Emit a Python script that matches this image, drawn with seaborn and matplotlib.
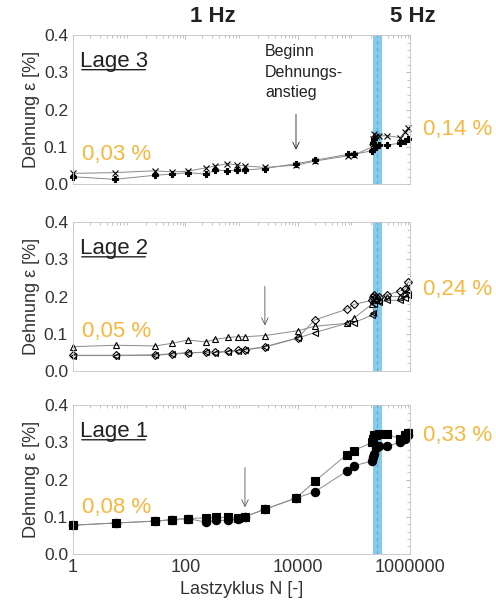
import numpy as np
import pandas as pd
import matplotlib
matplotlib.use("Agg")
import matplotlib.pyplot as plt
import seaborn as sns
from matplotlib.ticker import LogLocator, MultipleLocator, NullFormatter

sns.set_theme(style="white")
plt.rcParams["font.family"] = ["Liberation Sans", "DejaVu Sans"]

# ---- data ----
n_lage3 = [1, 5.6, 29, 57, 112, 234, 337, 560, 840, 1150, 2600, 9300, 2e4, 7.8e4, 1e5,
           2.1e5, 2.2e5, 2.3e5, 2.5e5, 2.8e5, 3.9e5, 6.6e5, 8e5, 9.3e5]
lage3_x = [0.029, 0.031, 0.036, 0.033, 0.035, 0.044, 0.049, 0.055, 0.051, 0.049, 0.045, 0.051,
           0.062, 0.076, 0.078, 0.10, 0.12, 0.135, 0.13, 0.13, 0.13, 0.125, 0.14, 0.15]
lage3_plus = [0.020, 0.013, 0.024, 0.027, 0.031, 0.027, 0.038, 0.036, 0.038, 0.038, 0.042, 0.055,
              0.064, 0.080, 0.080, 0.09, 0.11, 0.12, 0.10, 0.105, 0.105, 0.11, 0.115, 0.12]

n_lage2 = [1, 5.8, 29, 57, 112, 234, 340, 580, 870, 1150, 2600, 1e4, 2e4, 7.4e4, 1e5,
           2.1e5, 2.2e5, 2.3e5, 2.5e5, 2.8e5, 3.9e5, 6.6e5, 8e5, 9.3e5]
lage2_tri = [0.065, 0.069, 0.067, 0.074, 0.083, 0.078, 0.085, 0.090, 0.092, 0.092, 0.095, 0.108,
             0.120, 0.128, 0.142, 0.18, 0.19, 0.20, 0.195, 0.19, 0.20, 0.20, 0.21, 0.22]
lage2_dia = [0.042, 0.042, 0.043, 0.046, 0.049, 0.050, 0.050, 0.053, 0.055, 0.057, 0.065, 0.089,
             0.137, 0.166, 0.179, 0.19, 0.20, 0.205, 0.20, 0.20, 0.205, 0.215, 0.22, 0.24]
lage2_left = [0.041, 0.041, 0.042, 0.045, 0.048, 0.050, 0.049, 0.052, 0.054, 0.056, 0.064, 0.088,
              0.103, 0.128, 0.130, 0.15, 0.155, 0.18, 0.19, 0.185, 0.19, 0.19, 0.195, 0.205]

n_lage1 = [1, 5.8, 29, 57, 112, 234, 350, 580, 870, 1150, 2600, 9300, 2e4, 7.4e4, 1e5,
           2.1e5, 2.2e5, 2.3e5, 2.5e5, 2.8e5, 3.9e5, 6.6e5, 8e5, 9.3e5]
lage1_sq = [0.077, 0.083, 0.088, 0.092, 0.095, 0.097, 0.098, 0.098, 0.097, 0.100, 0.120, 0.150,
            0.195, 0.267, 0.278, 0.30, 0.31, 0.32, 0.32, 0.322, 0.322, 0.31, 0.32, 0.325]
lage1_circ = [0.077, 0.083, 0.088, 0.092, 0.095, 0.085, 0.090, 0.090, 0.095, 0.100, 0.120, 0.150,
              0.167, 0.222, 0.237, 0.25, 0.26, 0.27, 0.285, 0.29, 0.29, 0.30, 0.31, 0.32]

xticks = [1, 100, 10000, 1000000]
xtick_labels = ["1", "100", "10000", "1000000"]
start_values = ["0,03 %", "0,05 %", "0,08 %"]
end_values = ["0,14 %", "0,24 %", "0,33 %"]
lage_names = ["Lage 3", "Lage 2", "Lage 1"]
arrow_n = [9300, 2600, 1150]

orange = "#F6B740"
band = (2.15e5, 3.1e5)

fig = plt.figure(figsize=(4.96, 6.16), dpi=100)
axes = [fig.add_axes([0.147, 0.701, 0.68, 0.242]),
        fig.add_axes([0.147, 0.398, 0.68, 0.241]),
        fig.add_axes([0.147, 0.101, 0.68, 0.241])]

series = [
    (n_lage3, [(lage3_x, "x", "none"), (lage3_plus, "P", "black")]),
    (n_lage2, [(lage2_tri, "^", "none"), (lage2_dia, "D", "none"), (lage2_left, "<", "none")]),
    (n_lage1, [(lage1_sq, "s", "black"), (lage1_circ, "o", "black")]),
]

start_y = [0.16, 0.23, 0.277]
end_y = [0.33, 0.51, 0.757]

for i, ax in enumerate(axes):
    n, lines = series[i]
    ax.axvspan(band[0], band[1], color="#84CBEC", lw=0, zorder=0)
    ax.axvline(np.sqrt(band[0] * band[1]), color="#5AA9D6", lw=0.8, ls=(0, (3, 3)), zorder=0.5)
    for vals, m, face in lines:
        df = pd.DataFrame({"N": n, "eps": vals})
        size = 6 if m in ("s", "o") else 5
        if m == "D":
            size = 4
        sns.lineplot(data=df, x="N", y="eps", ax=ax, estimator=None, sort=False,
                     color="#8a8a8a", lw=0.7, marker=m, markersize=size,
                     markerfacecolor=face, markeredgecolor="black", markeredgewidth=0.8,
                     clip_on=False)
    ax.set_xscale("log")
    ax.set_xlim(1, 1e6)
    ax.set_ylim(0, 0.4)
    ax.yaxis.set_major_locator(MultipleLocator(0.1))
    ax.yaxis.set_minor_locator(MultipleLocator(0.02))
    ax.set_yticklabels([f"{v:.1f}" for v in ax.get_yticks()])
    ax.set_xticks(xticks)
    ax.xaxis.set_minor_locator(LogLocator(base=10, subs=np.arange(2, 10), numticks=20))
    ax.xaxis.set_minor_formatter(NullFormatter())
    ax.tick_params(which="both", direction="in", top=True, right=True, colors="#b0a8b0",
                   labelcolor="#333333")
    ax.tick_params(axis="y", labelsize=12.5)
    ax.tick_params(axis="x", labelsize=13)
    ax.tick_params(which="major", length=3, width=0.6)
    ax.tick_params(which="minor", length=2, width=0.5)
    for sp in ax.spines.values():
        sp.set_color("#c8c0c8")
        sp.set_linewidth(0.6)
    ax.set_ylabel("Dehnung ε [%]", fontsize=13, color="#333333", labelpad=3)
    if i < 2:
        ax.set_xticklabels([])
        ax.set_xlabel("")
    else:
        ax.set_xticklabels(xtick_labels)
        ax.set_xlabel("Lastzyklus N [-]", fontsize=13, color="#333333", labelpad=4)
    ax.text(0.02, 0.785, lage_names[i], transform=ax.transAxes, fontsize=16,
            color="#222222", ha="left", va="baseline")
    ax.annotate("", xy=(0.018, 0.768), xytext=(0.223, 0.768), xycoords="axes fraction",
                arrowprops=dict(arrowstyle="-", color="#222222", lw=1.0))
    ax.text(0.027, start_y[i], start_values[i], transform=ax.transAxes, fontsize=16,
            color=orange, ha="left", va="baseline")
    ax.text(1.039, end_y[i], end_values[i], transform=ax.transAxes,
            fontsize=16, color=orange, ha="left", va="baseline")

# arrows for Beginn Dehnungsanstieg
axes[0].annotate("", xy=(arrow_n[0], 0.085), xytext=(arrow_n[0], 0.195),
                 arrowprops=dict(arrowstyle="->", color="#222222", lw=0.6))
axes[0].text(2600, 0.375, "Beginn\nDehnungs-\nanstieg", fontsize=11.5, color="#222222",
             ha="left", va="top", linespacing=1.45)
axes[1].annotate("", xy=(arrow_n[1], 0.115), xytext=(arrow_n[1], 0.235),
                 arrowprops=dict(arrowstyle="->", color="#555555", lw=0.6))
axes[2].annotate("", xy=(arrow_n[2], 0.118), xytext=(arrow_n[2], 0.24),
                 arrowprops=dict(arrowstyle="->", color="#555555", lw=0.6))

fig.text(213 / 496, 1 - 17 / 616, "1 Hz", fontsize=16, fontweight="bold",
         color="#222222", ha="center", va="center")
fig.text(413 / 496, 1 - 17 / 616, "5 Hz", fontsize=16, fontweight="bold",
         color="#222222", ha="center", va="center")

fig.savefig("out.png", dpi=100, facecolor="white")
